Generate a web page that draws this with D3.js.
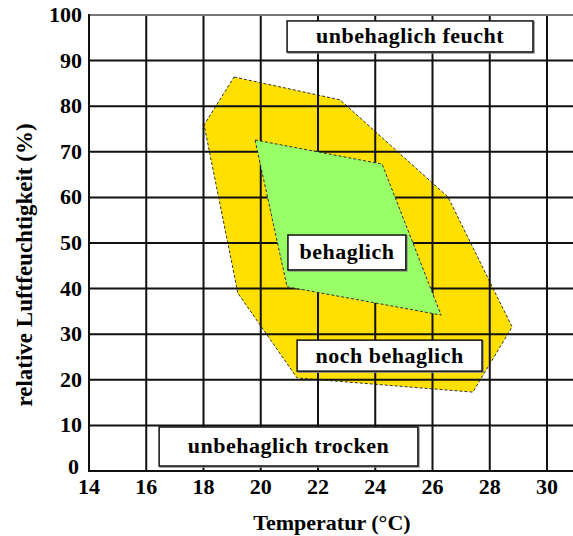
<!DOCTYPE html>
<html><head><meta charset="utf-8">
<script src="https://cdn.jsdelivr.net/npm/d3@7"></script>
<style>
html,body{margin:0;padding:0;background:#fff;}
svg{display:block;}
</style></head>
<body>
<svg id="c" width="573" height="536"></svg>
<script>
// ---- data ----
const xTicks = [14,16,18,20,22,24,26,28,30];
const yTicks = [0,10,20,30,40,50,60,70,80,90,100];
// "noch behaglich" zone (temperature °C, relative humidity %)
const yellowTemp = [19.07, 22.77, 26.54, 28.78, 27.41, 21.27, 19.2, 18.02];
const yellowHum  = [86.4, 81.4, 60.1, 31.6, 17.3, 20.4, 39.0, 75.9];
// "behaglich" zone
const greenTemp = [19.80, 24.24, 26.30, 20.92];
const greenHum  = [72.6, 67.3, 34.2, 40.4];
// labels with extents in data units
const labelText = ["unbehaglich feucht","behaglich","noch behaglich","unbehaglich trocken"];
const labelT0 = [20.92, 20.95, 21.27, 16.45];
const labelT1 = [29.51, 25.07, 27.73, 25.49];
const labelH0 = [91.9, 44.1, 21.9, 1.1];
const labelH1 = [98.7, 51.75, 28.7, 9.65];
const xTitle = "Temperatur (°C)";
const yTitle = "relative Luftfeuchtigkeit (%)";

// ---- layout ----
const FONT = "'Liberation Serif', 'DejaVu Serif', 'Times New Roman', serif";
const svg = d3.select("#c");
const x = d3.scaleLinear().domain([14,30]).range([89,547]);
const y = d3.scaleLinear().domain([0,100]).range([471,15]);
const xMax = 573;

const line = d3.line().x(d=>x(d[0])).y(d=>y(d[1])).curve(d3.curveLinearClosed);
const yellow = yellowTemp.map((t,i)=>[t,yellowHum[i]]);
const green = greenTemp.map((t,i)=>[t,greenHum[i]]);

function txt(sel){ return sel.attr("font-family",FONT).attr("font-weight","bold").attr("fill","#000"); }

// yellow zone
svg.append("path").attr("d", line(yellow))
  .attr("fill","#FFE000").attr("stroke","#333").attr("stroke-width",1)
  .attr("stroke-dasharray","3,2");

// grid
const g = svg.append("g");
g.selectAll("line.v").data(xTicks.slice(1)).join("line")
  .attr("x1",d=>x(d)).attr("x2",d=>x(d)).attr("y1",y(100)).attr("y2",y(0))
  .attr("stroke","#111").attr("stroke-width",2);
g.selectAll("line.h").data(yTicks.slice(1,-1)).join("line")
  .attr("x1",x(14)).attr("x2",xMax).attr("y1",d=>y(d)).attr("y2",d=>y(d))
  .attr("stroke","#111").attr("stroke-width",2);
// top border
g.append("line").attr("x1",x(14)).attr("x2",xMax).attr("y1",y(100)).attr("y2",y(100))
  .attr("stroke","#777").attr("stroke-width",2);

// green zone
svg.append("path").attr("d", line(green))
  .attr("fill","#99FF66").attr("stroke","#333").attr("stroke-width",1)
  .attr("stroke-dasharray","3,2");

// axes lines
svg.append("line").attr("x1",x(14)).attr("x2",x(14)).attr("y1",y(100)-1).attr("y2",y(0)+1)
  .attr("stroke","#111").attr("stroke-width",2);
svg.append("line").attr("x1",x(14)).attr("x2",xMax).attr("y1",y(0)).attr("y2",y(0))
  .attr("stroke","#111").attr("stroke-width",2);

// tick labels
txt(svg.selectAll("text.yt").data(yTicks).join("text"))
  .attr("x",d=>d===0?79:82).attr("y",d=>y(d)+(d===0?3:7)).attr("text-anchor","end")
  .attr("font-size",22).text(d=>d);
txt(svg.selectAll("text.xt").data(xTicks).join("text"))
  .attr("x",d=>x(d)).attr("y",y(0)+23).attr("text-anchor","middle")
  .attr("font-size",22).text(d=>d);

// titles
txt(svg.append("text")).attr("x",332).attr("y",530).attr("text-anchor","middle")
  .attr("font-size",22).text(xTitle);
txt(svg.append("text")).attr("transform","translate(32,265) rotate(-90)")
  .attr("text-anchor","middle").attr("font-size",23).text(yTitle);

// label boxes
labelText.forEach((t,i)=>{
  const x0=x(labelT0[i]), x1=x(labelT1[i]), y0=y(labelH1[i]), y1=y(labelH0[i]);
  svg.append("rect").attr("x",x0+1).attr("y",y0+1).attr("width",x1-x0).attr("height",y1-y0)
    .attr("fill","none").attr("stroke","#888").attr("stroke-width",1.5);
  svg.append("rect").attr("x",x0).attr("y",y0).attr("width",x1-x0).attr("height",y1-y0)
    .attr("fill","#fff").attr("stroke","#111").attr("stroke-width",1.5);
  txt(svg.append("text")).attr("x",(x0+x1)/2).attr("y",(y0+y1)/2+7)
    .attr("text-anchor","middle").attr("font-size",22).attr("letter-spacing","0.5px")
    .text(t);
});
</script>
</body></html>
